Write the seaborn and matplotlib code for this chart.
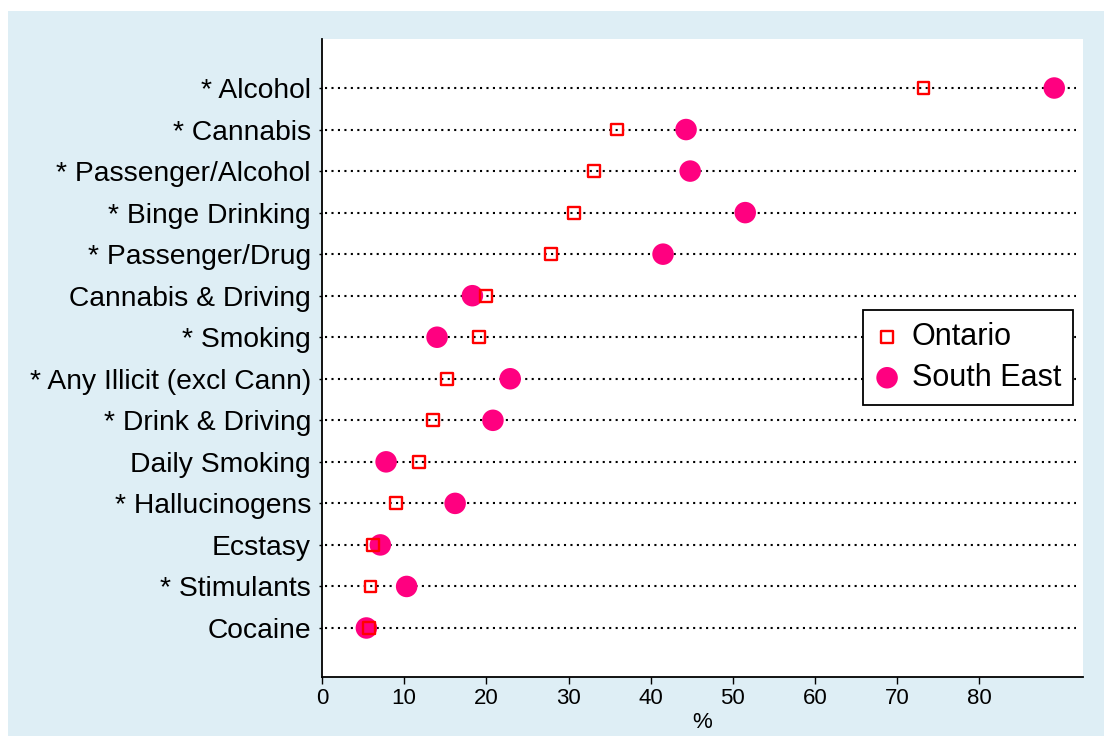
import pandas as pd
import matplotlib.pyplot as plt
import matplotlib.patches as mpatches
import seaborn as sns

# Data (percent)
categories = ['* Alcohol', '* Cannabis', '* Passenger/Alcohol', '* Binge Drinking',
              '* Passenger/Drug', 'Cannabis & Driving', '* Smoking',
              '* Any Illicit (excl Cann)', '* Drink & Driving', 'Daily Smoking',
              '* Hallucinogens', 'Ecstasy', '* Stimulants', 'Cocaine']
ontario = [73.2, 35.9, 33.1, 30.7, 27.9, 20.0, 19.1, 15.2, 13.5, 11.8, 9.0, 6.2, 5.9, 5.7]
south_east = [89.1, 44.3, 44.8, 51.5, 41.5, 18.3, 14.0, 22.9, 20.8, 7.8, 16.2, 7.1, 10.3, 5.4]
x_ticks = [0, 10, 20, 30, 40, 50, 60, 70, 80]

df = pd.DataFrame({'item': categories, 'Ontario': ontario, 'South East': south_east})

sns.set_style('white')
plt.rcParams['font.family'] = ['Liberation Sans', 'DejaVu Sans']
plt.rcParams['text.color'] = 'black'

fig = plt.figure(figsize=(11.04, 7.36), dpi=100, facecolor='white')
# light blue panel background (white strip at top and left as in the source)
fig.patches.append(mpatches.Rectangle((8 / 1104, 0), 1 - 8 / 1104, 1 - 11 / 736,
                                      transform=fig.transFigure, facecolor='#deeef5',
                                      edgecolor='none', zorder=-10))
ax = fig.add_axes([322 / 1104, 1 - 677 / 736, (1083 - 322) / 1104, (677 - 39) / 736])
ax.set_facecolor('white')

# dotted guide lines
ax.hlines(df['item'], 0.4, 91.7, colors='black', linewidth=1.5,
          linestyles=(0, (1, 2.1)), zorder=1)

sns.scatterplot(data=df, x='South East', y='item', ax=ax, marker='o', s=240,
                color='#ff0080', edgecolor='none', linewidth=0, label='South East', zorder=2)
sns.scatterplot(data=df, x='Ontario', y='item', ax=ax, marker='s', s=72,
                color='#ff0000', facecolor='none', edgecolor='#ff0000', linewidth=1.7,
                label='Ontario', zorder=3)

ax.set_xlim(0, 92.6)
ax.set_ylim(len(categories) - 1 + 1.18, -1.18)
ax.set_xticks(x_ticks)
ax.set_xlabel('%', fontsize=16, labelpad=2, color='black')
ax.set_ylabel('')

for side in ['top', 'right']:
    ax.spines[side].set_visible(False)
for side in ['left', 'bottom']:
    ax.spines[side].set_color('black')
    ax.spines[side].set_linewidth(1.3)

ax.tick_params(axis='x', labelsize=16, length=5, width=1, color='black',
               labelcolor='black', pad=3, bottom=True)
ax.tick_params(axis='y', labelsize=20.3, length=2, width=1, color='black',
               labelcolor='black', pad=6, left=True)

handles, labels = ax.get_legend_handles_labels()
order = [labels.index('Ontario'), labels.index('South East')]
leg = ax.legend([handles[i] for i in order], [labels[i] for i in order],
                loc='upper right', bbox_to_anchor=(0.987, 0.575), fontsize=22,
                frameon=True, fancybox=False, framealpha=1, edgecolor='black',
                borderpad=0.4, handlelength=0.8, handletextpad=0.4,
                labelspacing=0.34, borderaxespad=0)
leg.get_frame().set_linewidth(1.3)

fig.savefig('out.png', dpi=100, facecolor=fig.get_facecolor())
